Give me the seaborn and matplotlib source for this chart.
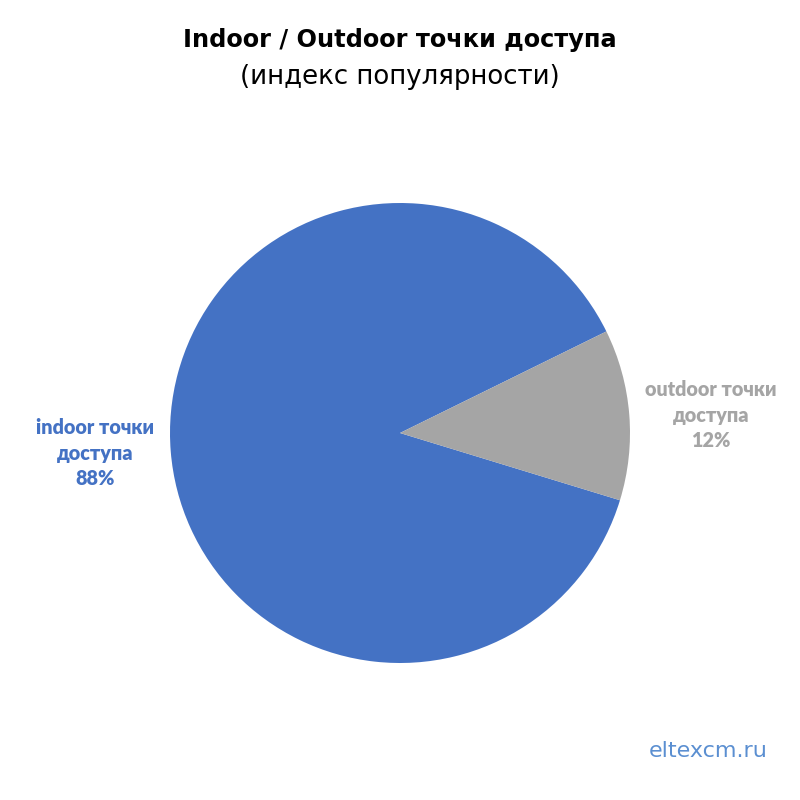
import matplotlib
matplotlib.use("Agg")
import matplotlib.pyplot as plt
import seaborn as sns

# --- данные ---
categories = ["indoor точки\nдоступа", "outdoor точки\nдоступа"]
shares = [88, 12]
colors = ["#4472C4", "#A5A5A5"]

sns.set_theme(style="white")
plt.rcParams["font.family"] = ["DejaVu Sans"]

fig = plt.figure(figsize=(8, 8), dpi=100)
fig.patch.set_facecolor("white")

# pie: centre (400, 433) px, radius 230 px
r = 230 / 800
cy = 1 - 433 / 800
ax = fig.add_axes([0.5 - r, cy - r, 2 * r, 2 * r])
wedges, _ = ax.pie(shares, colors=colors, startangle=-17, counterclock=False,
                   radius=1.0, wedgeprops=dict(linewidth=0))
ax.set_xlim(-1, 1)
ax.set_ylim(-1, 1)
ax.set_aspect("equal")
ax.axis("off")

# подписи данных
label_pos = [(-1.326, -0.087), (1.352, 0.078)]
label_colors = ["#4472C4", "#A5A5A5"]
for cat, val, (x, y), c in zip(categories, shares, label_pos, label_colors):
    ax.text(x, y, f"{cat}\n{val}%", ha="center", va="center", color=c,
            fontsize=14.2, fontweight="heavy", family=["Lato", "DejaVu Sans"],
            linespacing=1.4, clip_on=False)

fig.text(0.5, 1 - 40 / 800, "Indoor / Outdoor точки доступа", ha="center", va="center",
         fontsize=17.3, fontweight="bold", color="black")
fig.text(0.5, 1 - 77 / 800, "(индекс популярности)", ha="center", va="center",
         fontsize=18.7, color="black")
fig.text(708 / 800, 1 - 751 / 800, "eltexcm.ru", ha="center", va="center",
         fontsize=16, color="#5B8FD1")

fig.savefig("out.png", dpi=100, facecolor="white")
